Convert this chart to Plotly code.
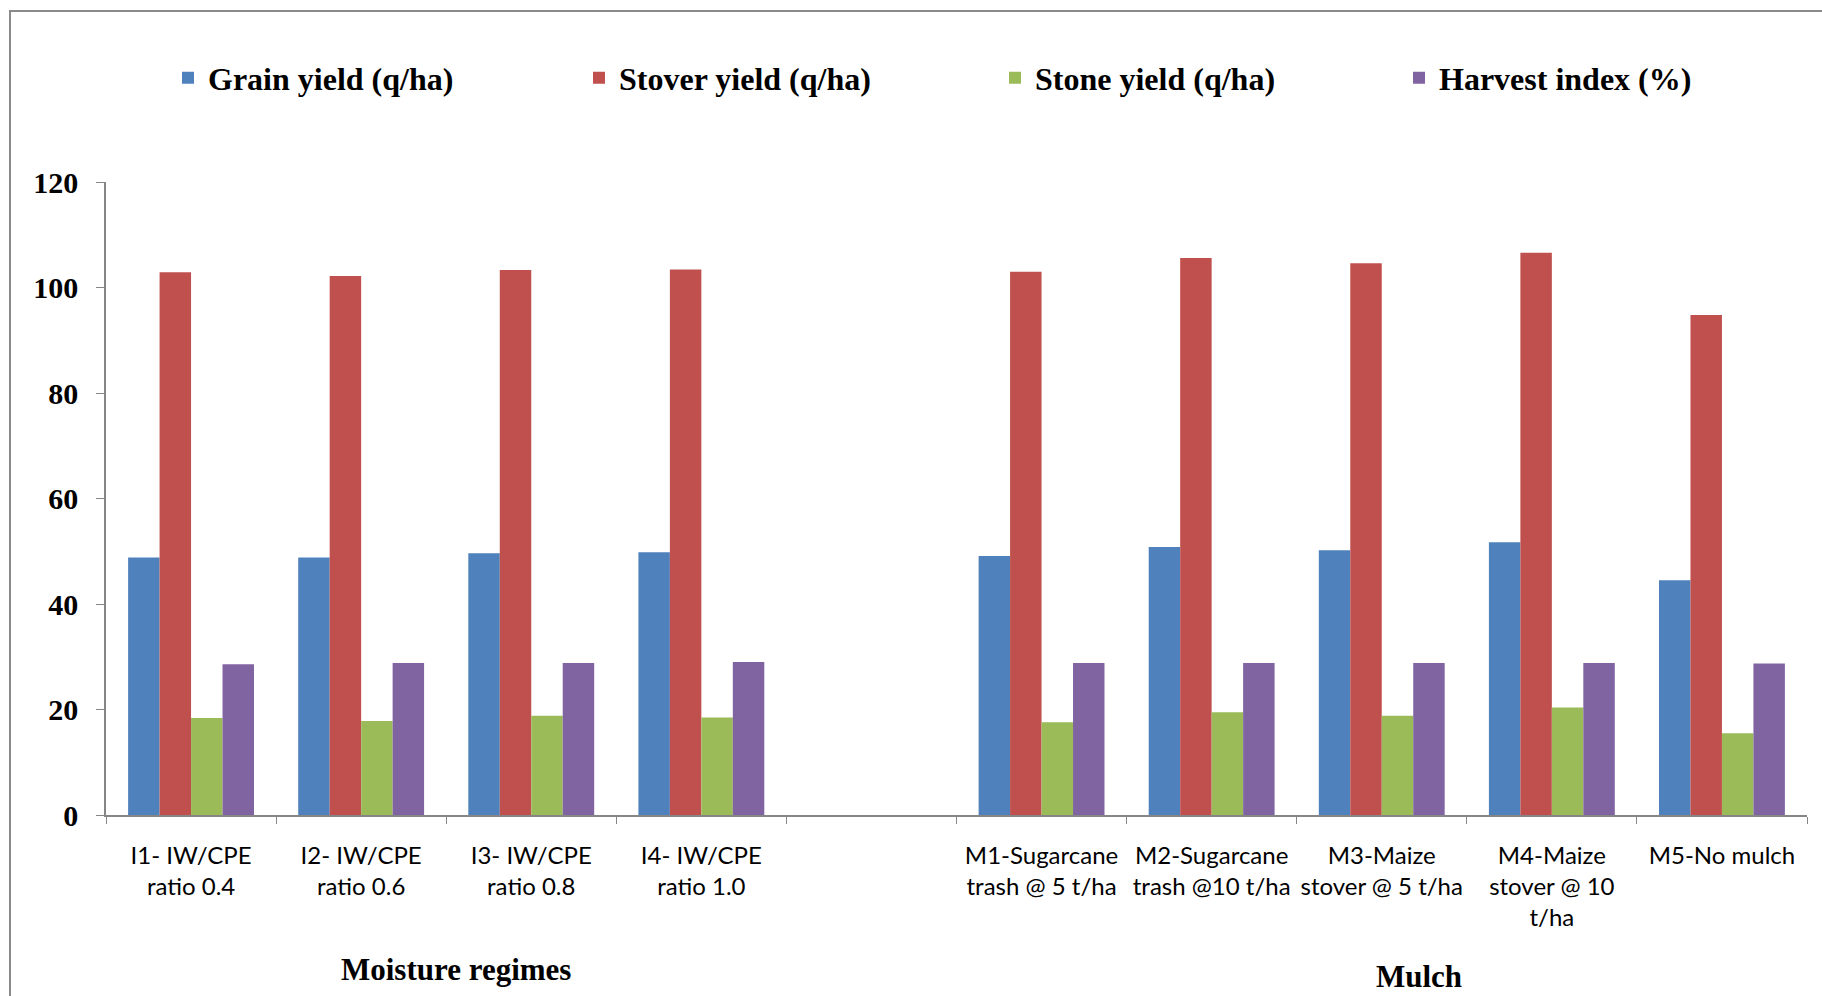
import plotly.graph_objects as go

categories = ["I1- IW/CPE<br>ratio 0.4", "I2- IW/CPE<br>ratio 0.6", "I3- IW/CPE<br>ratio 0.8",
              "I4- IW/CPE<br>ratio 1.0", " ",
              "M1-Sugarcane<br>trash @ 5 t/ha", "M2-Sugarcane<br>trash @10 t/ha",
              "M3-Maize<br>stover @ 5 t/ha", "M4-Maize<br>stover @ 10<br>t/ha", "M5-No mulch"]
grain = [48.8, 48.8, 49.6, 49.8, None, 49.1, 50.8, 50.2, 51.7, 44.5]
stover = [102.9, 102.2, 103.3, 103.4, None, 103.0, 105.6, 104.6, 106.6, 94.8]
stone = [18.4, 17.8, 18.8, 18.5, None, 17.6, 19.5, 18.8, 20.4, 15.5]
harvest = [28.6, 28.8, 28.8, 29.0, None, 28.8, 28.8, 28.8, 28.8, 28.7]
series_names = ["Grain yield (q/ha)", "Stover yield (q/ha)", "Stone yield (q/ha)", "Harvest index (%)"]
colors = ["#4F81BD", "#C0504D", "#9BBB59", "#8064A2"]
y_ticks = [0, 20, 40, 60, 80, 100, 120]

W, H = 1822, 996
L, R, T, B = 106, 15, 182, 181
pw, ph = W - L - R, H - T - B

def px(x):
    return (x - L) / pw

def py(y):
    return (H - B - y) / ph

legend_ids = ["legend", "legend2", "legend3", "legend4"]
legend_x = [168, 579, 995, 1399]

fig = go.Figure()
for name, vals, c, lid in zip(series_names, [grain, stover, stone, harvest], colors, legend_ids):
    fig.add_trace(go.Bar(x=categories, y=vals, name=name, marker_color=c,
                         marker_line_width=0, legend=lid))

legend_font = dict(family="Liberation Serif", size=32, color="black", weight="bold")
legend_layouts = {}
for lid, lx in zip(legend_ids, legend_x):
    legend_layouts[lid] = dict(orientation="h", x=px(lx), xanchor="left", y=py(78),
                               yanchor="middle", font=legend_font,
                               bgcolor="rgba(0,0,0,0)", itemsizing="constant")

fig.update_layout(
    width=W, height=H,
    margin=dict(l=L, r=R, t=T, b=B, pad=0),
    paper_bgcolor="white", plot_bgcolor="white",
    barmode="group", bargap=0.26, bargroupgap=0,
    showlegend=True,
    **legend_layouts,
    xaxis=dict(type="category", showline=True, linecolor="#868686", linewidth=1.5,
               ticks="outside", tickson="boundaries", ticklen=7, tickcolor="#868686",
               tickfont=dict(family="Lato", size=24, color="black"),
               ticklabelstandoff=18, showgrid=False, zeroline=False, tickangle=0),
    yaxis=dict(range=[0, 120], tickvals=y_ticks, ticktext=[str(v) for v in y_ticks],
               showline=True, linecolor="#868686", linewidth=1.5,
               ticks="outside", ticklen=8, tickcolor="#868686",
               tickfont=dict(family="Liberation Serif", size=30, color="black", weight="bold"),
               ticklabelstandoff=12, showgrid=False, zeroline=False),
    font=dict(family="Liberation Serif", color="black"),
    shapes=[dict(type="rect", xref="paper", yref="paper",
                 x0=px(10), x1=px(1830), y0=py(1005), y1=py(11),
                 line=dict(color="#8a8a8a", width=2), fillcolor="rgba(0,0,0,0)", layer="below")],
    annotations=[
        dict(text="<b>Moisture regimes</b>", xref="paper", yref="paper", x=px(456), y=py(969),
             xanchor="center", yanchor="middle", showarrow=False,
             font=dict(family="Liberation Serif", size=31, color="black")),
        dict(text="<b>Mulch</b>", xref="paper", yref="paper", x=px(1419), y=py(976),
             xanchor="center", yanchor="middle", showarrow=False,
             font=dict(family="Liberation Serif", size=31, color="black")),
    ],
)

fig.write_html("out.html", config={"displayModeBar": False})
